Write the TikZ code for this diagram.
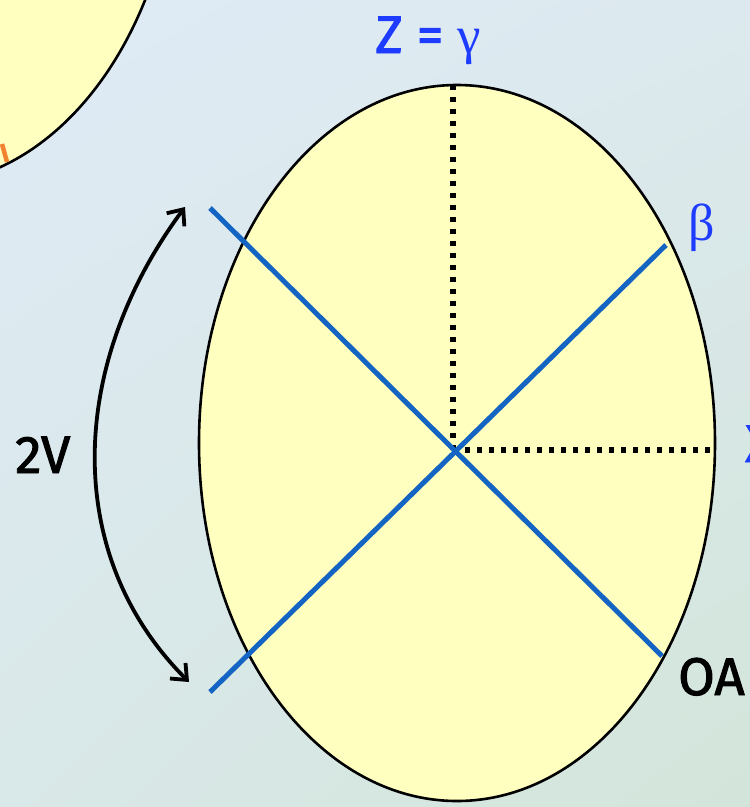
\documentclass[tikz,border=0pt]{standalone}
\usepackage{fontspec}
\usetikzlibrary{arrows.meta,shadings}
\newfontfamily\labfont[FakeBold=1.8]{Fira Sans}
\newfontfamily\grkfont{Liberation Serif}
\definecolor{bgtl}{HTML}{DFEBF6}
\definecolor{bgtr}{HTML}{DCE9EE}
\definecolor{bgbl}{HTML}{D9E8E8}
\definecolor{bgbr}{HTML}{D3E5DA}
\definecolor{yel}{HTML}{FFFFC0}
\definecolor{axisblue}{HTML}{1464C4}
\definecolor{txtblue}{HTML}{1E3CFF}
\definecolor{orng}{HTML}{F08232}
\tikzset{
  ell/.style={fill=yel, draw=black, line width=2.6pt},
  axisline/.style={axisblue, line width=5pt},
  dotline/.style={black, line width=5.2pt, dash pattern=on 5pt off 7pt},
  bluelab/.style={txtblue, inner sep=0pt, anchor=base west, font=\labfont\fontsize{53}{53}\selectfont},
  blacklab/.style={black, inner sep=0pt, anchor=base west, font=\labfont\fontsize{53}{53}\selectfont},
  grklab/.style={txtblue, inner sep=0pt, anchor=base west, font=\grkfont\fontsize{52}{52}\selectfont},
  arc2v/.style={black, line width=3.8pt, {Straight Barb[length=13pt,width=22pt]}-{Straight Barb[length=13pt,width=22pt]}}
}
\begin{document}
\begin{tikzpicture}[x=1pt,y=-1pt]
\useasboundingbox (0,0) rectangle (750,807);
\clip (0,0) rectangle (750,807);
\shade[upper left=bgtl, upper right=bgtr, lower left=bgbl, lower right=bgbr] (0,0) rectangle (750,807);
% top-left partial ellipse
\draw[ell] (-80,-177) ellipse [x radius=258, y radius=362];
\draw[orng, line width=4.5pt] (2,144) -- (7,162);
% main ellipse
\draw[ell] (457,443) ellipse [x radius=258, y radius=358];
\coordinate (O) at (453,450);
\coordinate (Top) at (453,86);
\coordinate (Right) at (715,450);
\draw[dotline] (O) -- (Top);
\draw[dotline] (O) -- (Right);
\coordinate (A1) at (210,208);
\coordinate (A2) at (662,656);
\coordinate (B1) at (666,245);
\coordinate (B2) at (210,692);
\draw[axisline] (A1) -- (A2);
\draw[axisline] (B1) -- (B2);
% 2V arc
\coordinate (V1) at (185,207);
\coordinate (V2) at (189,682);
\draw[arc2v] (V1) .. controls (68,365) and (62,555) .. (V2);
% labels
\node[bluelab] (zlab) at (375,53) {Z = {\grkfont γ}};
\node[grklab] (blab) at (688,240) {β};
\node[blacklab] (vlab) at (15,473) {2V};
\node[blacklab] (oalab) at (678,695) {OA};
\node[bluelab] (xlab) at (745,462) {X};
\end{tikzpicture}
\end{document}
